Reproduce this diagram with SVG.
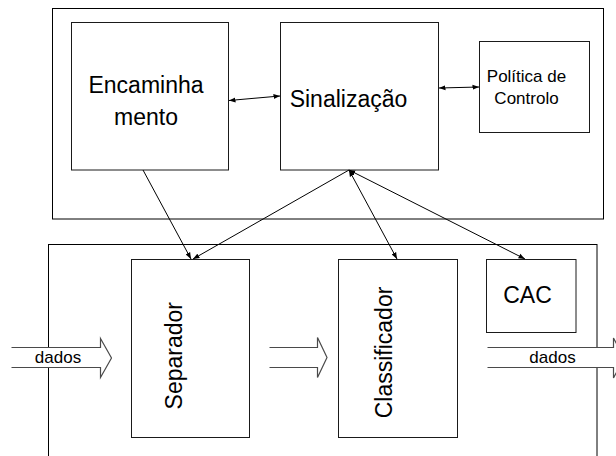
<svg xmlns="http://www.w3.org/2000/svg" width="616" height="456" viewBox="0 0 616 456">
  <style>
    .box { fill: #ffffff; stroke: #1a1a1a; stroke-width: 1; }
    .frame { fill: none; stroke: #000000; stroke-width: 1; }
    .blk { fill: #ffffff; stroke: #4a4a4a; stroke-width: 1.2; }
    .lbl { font-family: "Liberation Sans", Arial, sans-serif; fill: #000000; text-anchor: middle; }
    .big { font-size: 23px; }
    .mid { font-size: 17px; }
    .con { fill: none; stroke: #000000; stroke-width: 1; }
  </style>
  <defs>
    <marker id="ah" markerUnits="userSpaceOnUse" markerWidth="7" markerHeight="6" refX="6.5" refY="3" orient="auto-start-reverse">
      <path d="M0,0.5 L6.5,3 L0,5.5 z" fill="#000000"/>
    </marker>
  </defs>
  <rect width="616" height="456" fill="#ffffff"/>

  <g id="frame-top">
    <rect class="frame" x="52.5" y="8.5" width="551" height="210.5"/>
  </g>
  <g id="frame-bottom">
    <rect class="frame" x="48.5" y="244.5" width="548.5" height="240"/>
  </g>

  <g id="encaminhamento">
    <rect class="box" x="71.5" y="22.5" width="157" height="147.5"/>
    <text class="lbl big" x="146" y="92.7">Encaminha</text>
    <text class="lbl big" x="146" y="125">mento</text>
  </g>
  <g id="sinalizacao">
    <rect class="box" x="280.5" y="22.5" width="158" height="147.5"/>
    <text class="lbl big" x="348.5" y="107.3">Sinalização</text>
  </g>
  <g id="politica">
    <rect class="box" x="479.5" y="41.5" width="110" height="91"/>
    <text class="lbl mid" x="526.5" y="81.7">Política de</text>
    <text class="lbl mid" x="526.5" y="104.3">Controlo</text>
  </g>
  <g id="separador">
    <rect class="box" x="131.5" y="259.5" width="118" height="178"/>
    <text class="lbl big" transform="translate(182,355.7) rotate(-90)" x="0" y="0">Separador</text>
  </g>
  <g id="classificador">
    <rect class="box" x="338.5" y="259.5" width="119" height="178"/>
    <text class="lbl big" transform="translate(391.5,352.5) rotate(-90)" x="0" y="0">Classificador</text>
  </g>
  <g id="cac">
    <rect class="box" x="486.5" y="259.5" width="89.5" height="73"/>
    <text class="lbl big" x="527.5" y="303.3">CAC</text>
  </g>

  <g id="dados-in">
    <path class="blk" d="M11.5,347.5 H100.5 V338.5 L111.5,358 L100.5,377.5 V367.5 H11.5"/>
    <text class="lbl mid" x="58" y="363.3">dados</text>
  </g>
  <g id="flow-mid">
    <path class="blk" d="M269.5,347.5 H317.5 V337.5 L327,357.5 L317.5,377.5 V367.5 H269.5"/>
  </g>
  <g id="dados-out">
    <path class="blk" d="M487.5,347.5 H613.5 V338 L624,358 L613.5,378 V367.5 H487.5"/>
    <text class="lbl mid" x="552.5" y="363.3">dados</text>
  </g>

  <g id="connectors">
    <path class="con" d="M229,100.5 L280,96" marker-start="url(#ah)" marker-end="url(#ah)"/>
    <path class="con" d="M439,88 L479,87" marker-start="url(#ah)" marker-end="url(#ah)"/>
    <path class="con" d="M143,170 L191,259" marker-end="url(#ah)"/>
    <path class="con" d="M349,170 L193,259" marker-end="url(#ah)"/>
    <path class="con" d="M349,170 L397,259" marker-start="url(#ah)" marker-end="url(#ah)"/>
    <path class="con" d="M349,170 L525,259" marker-start="url(#ah)" marker-end="url(#ah)"/>
  </g>
</svg>
